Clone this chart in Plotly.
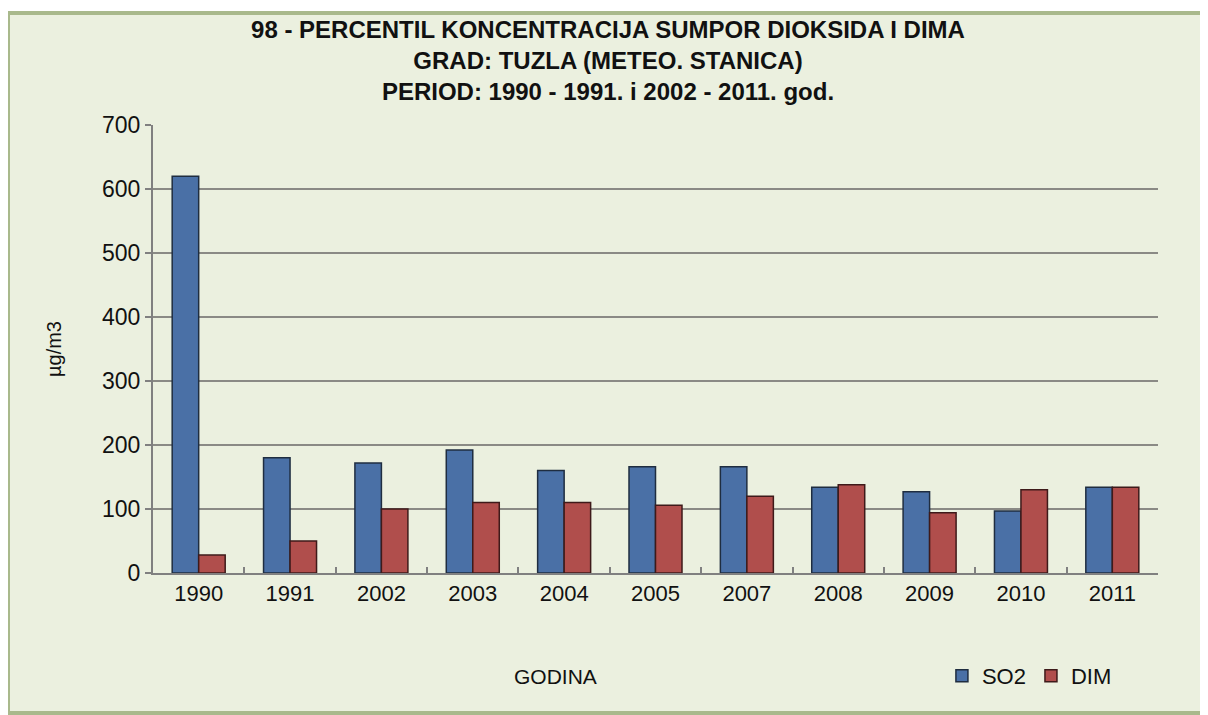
import plotly.graph_objects as go

years = ["1990", "1991", "2002", "2003", "2004", "2005", "2007", "2008", "2009", "2010", "2011"]
so2 = [620, 180, 172, 192, 160, 166, 166, 134, 127, 97, 134]
dim = [28, 50, 100, 110, 110, 106, 120, 138, 94, 130, 134]

fig = go.Figure()
fig.add_trace(go.Bar(x=years, y=so2, name="SO2",
                     marker=dict(color="#4A70A6", line=dict(color="#1F2D40", width=1.5))))
fig.add_trace(go.Bar(x=years, y=dim, name="DIM",
                     marker=dict(color="#B04E4C", line=dict(color="#3E1A1A", width=1.5))))

fig.update_layout(
    width=1200, height=707,
    margin=dict(l=145, r=50, t=117, b=142),
    paper_bgcolor="white",
    plot_bgcolor="#EEF2E6",
    barmode="group",
    bargap=0.42,
    bargroupgap=0,
    font=dict(family="Liberation Sans, Arial", size=22, color="#111"),
    title=dict(
        text="<b>98 - PERCENTIL KONCENTRACIJA SUMPOR DIOKSIDA I DIMA<br>GRAD: TUZLA (METEO. STANICA)<br>PERIOD: 1990 - 1991. i 2002 - 2011. god.</b>",
        x=0.5, xanchor="center", y=0.958, yanchor="top",
        font=dict(size=24, family="Liberation Sans, Arial"),
    ),
    legend=dict(orientation="h", x=0.785, y=-0.23, xanchor="left", yanchor="middle",
                font=dict(size=22), bgcolor="rgba(0,0,0,0)", itemwidth=30),
    shapes=[
        dict(type="rect", xref="paper", yref="paper", layer="below",
             x0=-145 / 1005, x1=1 + 45 / 1005, y0=-140 / 448, y1=1 + 112 / 448,
             fillcolor="#EBF0DF", line=dict(color="#A9B98C", width=4)),
    ],
    annotations=[
        dict(text="GODINA", xref="paper", yref="paper", x=0.4, y=-0.23,
             xanchor="center", yanchor="middle", showarrow=False, font=dict(size=21)),
    ],
)
fig.update_xaxes(
    showline=True, linecolor="#808080", linewidth=2,
    ticks="inside", tickson="boundaries", ticklen=6, tickcolor="#808080", tickwidth=2,
)
fig.update_yaxes(
    range=[0, 700], dtick=100,
    showline=True, linecolor="#808080", linewidth=2,
    showgrid=True, gridcolor="#8A8A85", gridwidth=2,
    ticks="outside", ticklen=6, tickcolor="#808080", tickwidth=2,
    tickfont=dict(size=23),
    title=dict(text="µg/m3", font=dict(size=20), standoff=35),
    zeroline=False,
)

fig.write_html("out.html")
